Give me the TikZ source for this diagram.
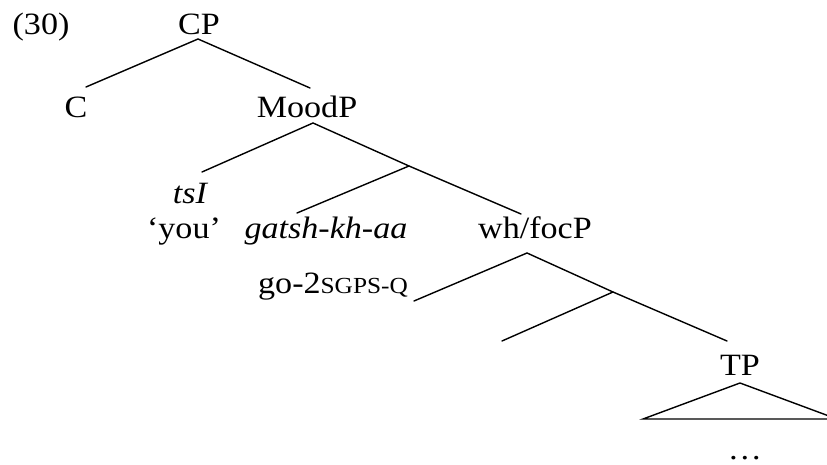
\documentclass[tikz,border=0pt]{standalone}
\usepackage{fontspec}
\setmainfont{Liberation Serif}[FakeStretch=1.1]
\begin{document}
\begin{tikzpicture}[x=1pt,y=-1pt,
  lbl/.style={inner sep=0pt,anchor=base,font=\fontsize{31}{37}\selectfont},
  branch/.style={line width=1.4pt,line cap=round}]
\useasboundingbox (0,0) rectangle (827,465);
\clip (0,0) rectangle (827,465);
% labels
\node[lbl] (ex) at (41,35) {(30)};
\node[lbl] (cp) at (199,35) {CP};
\node[lbl] (c) at (76,118) {C};
\node[lbl] (moodp) at (307,118) {MoodP};
\node[lbl] (tsi) at (190,204) {\itshape tsI};
\node[lbl] (you) at (184,238) {‘you’};
\node[lbl] (gatsh) at (326,238) {\itshape gatsh-kh-aa};
\node[lbl] (gloss) at (333,293) {go-2{\fontsize{23}{28}\selectfont SGPS-Q}};
\node[lbl] (whfoc) at (535,238) {wh/focP};
\node[lbl] (tp) at (740,375) {TP};
\node[lbl] (dots) at (745,459) {…};
% branch points
\coordinate (cpb) at (198,39);
\coordinate (cl) at (86,87);
\coordinate (cr) at (310,88);
\coordinate (mb) at (313,123);
\coordinate (ml) at (202,172);
\coordinate (mbar) at (409,166);
\coordinate (mr) at (521,214);
\coordinate (mbl) at (297,213);
\coordinate (wb) at (527,253);
\coordinate (wl) at (414,301);
\coordinate (wbar) at (613,292);
\coordinate (wr) at (727,341);
\coordinate (wbl) at (502,341);
\coordinate (tapex) at (740,383);
\coordinate (tleft) at (643,419);
\coordinate (tright) at (837,419);
% branches
\draw[branch] (cl) -- (cpb) -- (cr);
\draw[branch] (ml) -- (mb) -- (mbar) -- (mr);
\draw[branch] (mbar) -- (mbl);
\draw[branch] (wl) -- (wb) -- (wbar) -- (wr);
\draw[branch] (wbar) -- (wbl);
\draw[branch,line join=miter] (tright) -- (tapex) -- (tleft) -- cycle;
\end{tikzpicture}
\end{document}
